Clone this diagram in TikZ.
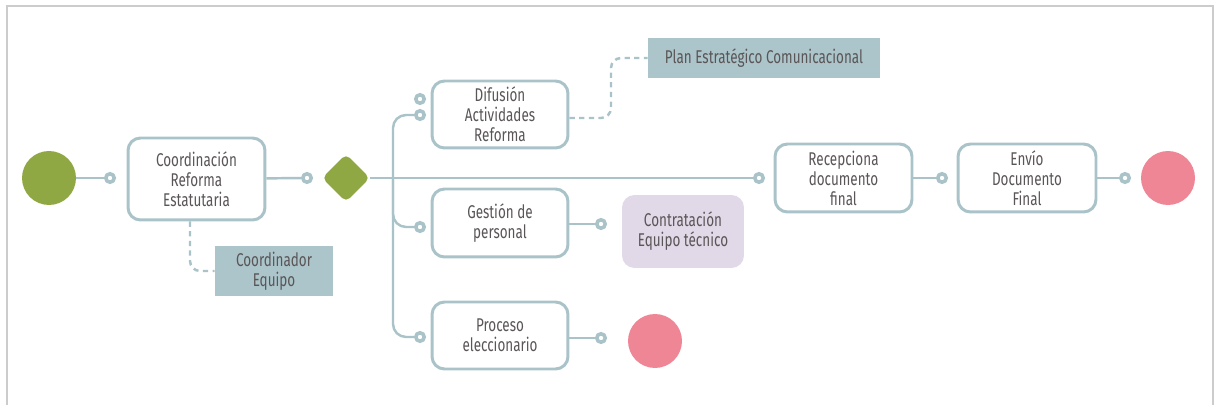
\documentclass[tikz,border=0pt]{standalone}
\usepackage{fontspec}
\setmainfont{Fira Sans}[FakeStretch=0.73]
\usetikzlibrary{shapes.geometric}
\definecolor{linec}{HTML}{A9C3C8}
\definecolor{txt}{HTML}{5A5556}
\definecolor{startg}{HTML}{8FA843}
\definecolor{endp}{HTML}{EE8696}
\definecolor{notef}{HTML}{ABC5CA}
\definecolor{lav}{HTML}{E1D9E7}
\definecolor{frame}{HTML}{CCCCCC}
\begin{document}
\begin{tikzpicture}[x=0.02cm,y=-0.02cm,
  font=\fontsize{10.5}{11.4}\selectfont, text=txt,
  task/.style={draw=linec, line width=1.7pt, rounded corners=0.25cm, fill=white, align=center, inner sep=0pt},
  port/.style={circle, draw=linec, line width=2pt, fill=white, minimum size=0.17cm, inner sep=0pt},
  conn/.style={draw=linec, line width=1.4pt},
  dconn/.style={draw=linec, line width=1.4pt, dash pattern=on 3pt off 2.5pt, rounded corners=0.2cm},
  startev/.style={circle, fill=startg, minimum size=1.08cm, inner sep=0pt},
  endev/.style={circle, fill=endp, minimum size=1.08cm, inner sep=0pt},
  gate/.style={diamond, fill=startg, minimum width=0.96cm, minimum height=0.96cm, inner sep=0pt, rounded corners=3pt},
  note/.style={fill=notef, align=center, inner sep=0pt},
  subproc/.style={fill=lav, rounded corners=0.25cm, align=center, inner sep=0pt}]
\useasboundingbox (0,0) rectangle (1214,405);
% frame
\draw[frame, line width=1.2pt] (7,405) -- (7,6) -- (1213,6) -- (1213,405);

% nodes
\node[startev] (start) at (49,178) {};
\node[port] (p1) at (110,178) {};
\node[task, minimum width=2.74cm, minimum height=1.64cm] (coord) at (196.5,179) {Coordinación\\Reforma\\Estatutaria};
\node[port] (p2) at (307,178) {};
\node[gate] (gw) at (346,178) {};
\coordinate (vx) at (393,178);

\node[port] (pd1) at (420,99) {};
\node[port] (pd2) at (420,115) {};
\node[task, minimum width=2.72cm, minimum height=1.34cm] (dif) at (500,114.5) {Difusión\\Actividades\\Reforma};

\node[port] (pg) at (420,227) {};
\node[task, minimum width=2.72cm, minimum height=1.36cm] (ges) at (500,223) {Gestión de\\personal};
\node[port] (pg2) at (601,224) {};
\node[subproc, minimum width=2.44cm, minimum height=1.46cm] (contr) at (683,231.5) {Contratación\\Equipo técnico};

\node[port] (pp) at (420,337) {};
\node[task, minimum width=2.72cm, minimum height=1.34cm] (proc) at (500,335.5) {Proceso\\eleccionario};
\node[port] (pp2) at (601,338) {};
\node[endev] (endp) at (655,341) {};

\node[port] (p8) at (759,178) {};
\node[task, minimum width=2.74cm, minimum height=1.36cm] (rec) at (843.5,178) {Recepciona\\documento\\final};
\node[port] (p9) at (942,178) {};
\node[task, minimum width=2.76cm, minimum height=1.36cm] (env) at (1027,178) {Envío\\Documento\\Final};
\node[port] (p10) at (1125,178) {};
\node[endev] (ende) at (1168,178) {};

\node[note, minimum width=4.64cm, minimum height=0.8cm] (plan) at (764,58) {Plan Estratégico Comunicacional};
\node[note, minimum width=2.36cm, minimum height=1.0cm] (cequipo) at (274,271) {Coordinador\\Equipo};

% connectors
\draw[conn] (start) -- (p1);
\draw[conn] (coord) -- (p2);
\draw[conn] (gw.east) -- (p8.west);
\draw[conn, rounded corners=0.26cm] (pd2.west) -| (vx |- pp) -- (pp.west);
\draw[conn, rounded corners=0.26cm] (vx) |- (pg.west);
\draw[conn] (ges.east |- pg2) -- (pg2.west);
\draw[conn] (proc.east |- pp2) -- (pp2.west);
\draw[conn] (rec) -- (p9);
\draw[conn] (env) -- (p10);

\coordinate (dm) at (611,90);
\draw[dconn] ([yshift=-0.07cm]dif.east) -| (dm) |- (plan.west);
\draw[dconn] ([xshift=-0.13cm]coord.south) |- (cequipo.west);
\end{tikzpicture}
\end{document}
